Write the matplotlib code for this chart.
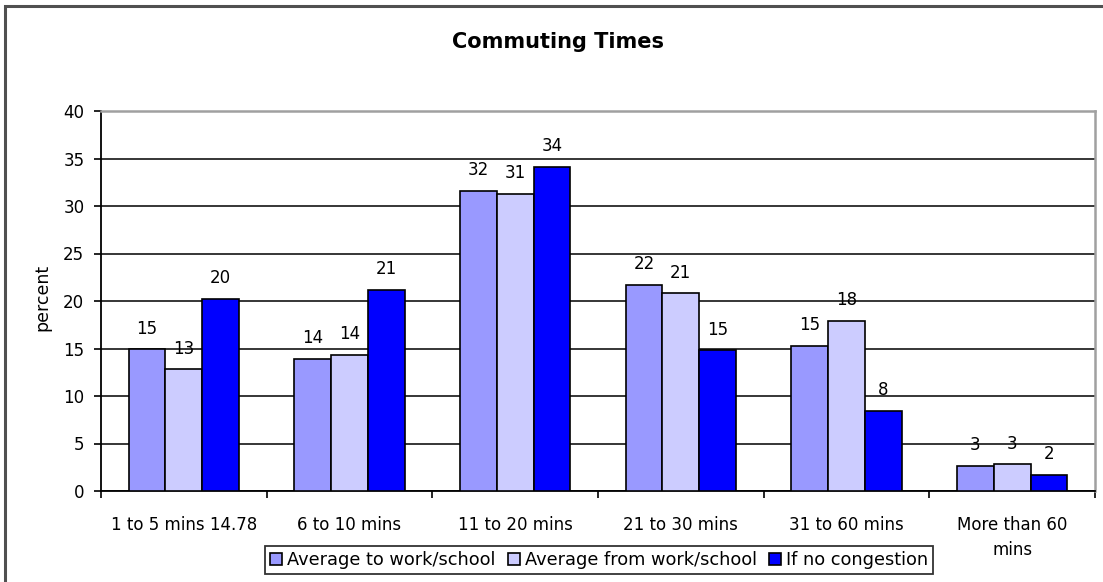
import matplotlib
matplotlib.use("Agg")
import matplotlib.pyplot as plt
from matplotlib.patches import Rectangle
import numpy as np

categories = ["1 to 5 mins 14.78", "6 to 10 mins", "11 to 20 mins",
              "21 to 30 mins", "31 to 60 mins", "More than 60\nmins"]
to_work = [14.9, 13.9, 31.6, 21.7, 15.3, 2.6]
from_work = [12.8, 14.3, 31.3, 20.8, 17.9, 2.8]
no_congestion = [20.2, 21.2, 34.1, 14.8, 8.4, 1.7]
series_names = ["Average to work/school", "Average from work/school", "If no congestion"]
series_colors = ["#9999FF", "#CCCCFF", "#0000FF"]

plt.rcParams["font.family"] = "DejaVu Sans"

W, H = 1103, 582
fig = plt.figure(figsize=(W / 100, H / 100), dpi=100)
fig.patch.set_facecolor("white")

# outer chart frame (left and top edges visible)
frame = Rectangle((5 / W, -0.5), 2.0, (H - 6) / H + 0.5, transform=fig.transFigure,
                  fill=False, edgecolor="#505050", lw=2.2, clip_on=False)
fig.patches.append(frame)

ax = fig.add_axes([101 / W, 91 / H, (1095 - 101) / W, 380 / H])

x = np.arange(len(categories))
w = 1 / 4.5
for j, (vals, name, col) in enumerate(zip([to_work, from_work, no_congestion],
                                          series_names, series_colors)):
    pos = x + (j - 1) * w
    ax.bar(pos, vals, width=w, color=col, edgecolor="black", linewidth=1.2,
           label=name, zorder=3)
    for xp, v in zip(pos, vals):
        ax.annotate(f"{v:.0f}", (xp, v), xytext=(0, 15), textcoords="offset points",
                    ha="center", va="center", fontsize=12, zorder=4)

ax.set_xlim(-0.5, len(categories) - 0.5)
ax.set_ylim(0, 40)
ax.set_yticks(np.arange(0, 41, 5))
ax.yaxis.grid(True, color="black", lw=1.1)
ax.set_axisbelow(True)

ax.set_xticks(x)
ax.set_xticklabels(categories, fontsize=12, linespacing=1.5)
ax.set_xticks(np.arange(-0.5, len(categories)), minor=True)
ax.tick_params(axis="x", which="major", length=0, pad=18)
ax.tick_params(axis="x", which="minor", length=5, width=1.2, direction="out")
ax.tick_params(axis="y", length=5, width=1.2, direction="out", pad=7, labelsize=12)

for s in ["left", "bottom"]:
    ax.spines[s].set_color("black")
    ax.spines[s].set_linewidth(1.3)
for s in ["top", "right"]:
    ax.spines[s].set_color("#a0a0a0")
    ax.spines[s].set_linewidth(1.8)

fig.text(558 / W, 1 - 42 / H, "Commuting Times", ha="center", va="center",
         fontsize=15, fontweight="bold")
fig.text(42 / W, 1 - 297 / H, "percent", ha="center", va="center",
         rotation=90, fontsize=12.5)

leg = fig.legend(loc="center", bbox_to_anchor=(599 / W, (H - 560) / H), ncol=3,
                 fontsize=12.8, frameon=True, fancybox=False, shadow=False,
                 handlelength=0.7, handleheight=0.7, handletextpad=0.25,
                 columnspacing=0.7, borderpad=0.3, borderaxespad=0)
leg.get_frame().set_edgecolor("black")
leg.get_frame().set_linewidth(1.3)

fig.savefig("out.png", dpi=100)
